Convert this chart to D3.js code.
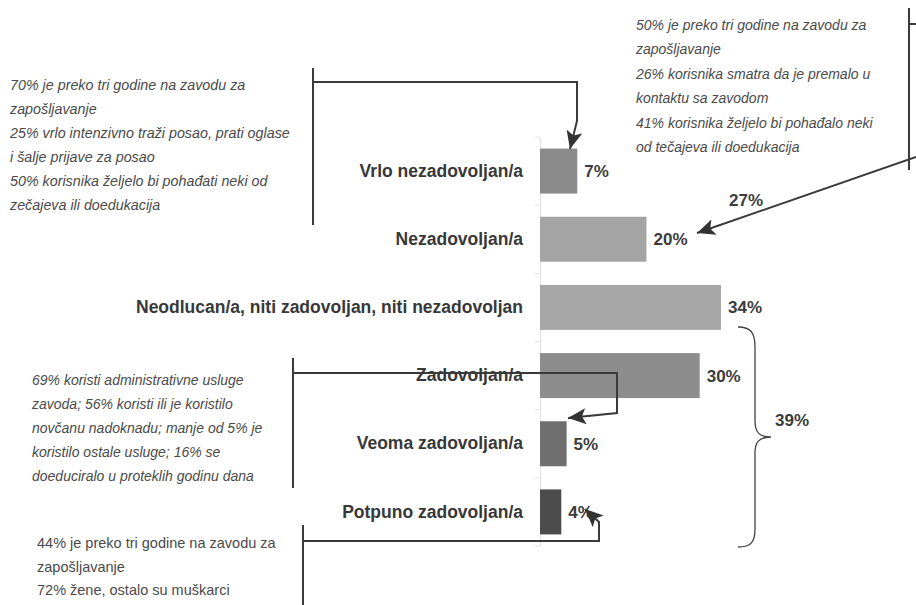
<!DOCTYPE html>
<html>
<head>
<meta charset="utf-8">
<script src="https://cdn.jsdelivr.net/npm/d3@7/dist/d3.min.js"></script>
<style>
  body { margin: 0; background: #fff; }
  text { font-family: "Liberation Sans", Arial, sans-serif; }
</style>
</head>
<body>
<div id="chart"></div>
<script>
// categories and values
const categories = ["Vrlo nezadovoljan/a", "Nezadovoljan/a", "Neodlucan/a, niti zadovoljan, niti nezadovoljan",
  "Zadovoljan/a", "Veoma zadovoljan/a", "Potpuno zadovoljan/a"];
const values = [7, 20, 34, 30, 5, 4];
const barColors = ["#8b8b8b", "#a4a4a4", "#a7a7a7", "#8d8d8d", "#6f6f6f", "#4c4c4c"];

// annotation texts
const noteTopLeft = ["70% je preko tri godine na zavodu za", "zapošljavanje",
  "25% vrlo intenzivno traži posao, prati oglase", "i šalje prijave za posao",
  "50% korisnika željelo bi pohađati neki od", "zečajeva ili doedukacija"];
const noteTopRight = ["50% je preko tri godine na zavodu za", "zapošljavanje",
  "26% korisnika smatra da je premalo u", "kontaktu sa zavodom",
  "41% korisnika željelo bi pohađalo neki", "od tečajeva ili doedukacija"];
const noteMidLeft = ["69% koristi administrativne usluge", "zavoda; 56% koristi ili je koristilo",
  "novčanu nadoknadu; manje od 5% je", "koristilo ostale usluge; 16% se",
  "doeduciralo u proteklih godinu dana"];
const noteBottom = ["44% je preko tri godine na zavodu za", "zapošljavanje", "72% žene, ostalo su muškarci"];
const groupLabels = ["27%", "39%"];

const W = 916, H = 605;
const svg = d3.select("#chart").append("svg").attr("width", W).attr("height", H);

const x = d3.scaleLinear().domain([0, 34]).range([540, 721]);
const y = d3.scaleBand().domain(categories).range([137, 546]).paddingInner(0.34).paddingOuter(0.17);

// faint axis line with ticks between bands
const axis = svg.append("g").attr("transform", "translate(540,0)")
  .call(d3.axisLeft(y).tickSize(0).tickPadding(17));
axis.select(".domain").attr("stroke", "#e2e2e2");
axis.selectAll("text")
  .attr("fill", "#383838")
  .style("font-size", "17.5px")
  .style("font-weight", "bold");

const bounds = d3.range(categories.length + 1).map(i => 137 + i * y.step());
svg.selectAll("line.tk").data(bounds).enter().append("line")
  .attr("x1", 535).attr("x2", 540)
  .attr("y1", d => d).attr("y2", d => d)
  .attr("stroke", "#e2e2e2");

// bars
svg.selectAll("rect.bar").data(categories).enter().append("rect")
  .attr("x", x(0))
  .attr("y", d => y(d))
  .attr("width", (d, i) => x(values[i]) - x(0))
  .attr("height", y.bandwidth())
  .attr("fill", (d, i) => barColors[i]);

svg.selectAll("text.val").data(categories).enter().append("text")
  .attr("x", (d, i) => x(values[i]) + 7)
  .attr("y", d => y(d) + y.bandwidth() / 2)
  .attr("dy", "0.35em")
  .attr("fill", "#3c3c3c")
  .style("font-size", "17px")
  .style("font-weight", "bold")
  .text((d, i) => values[i] + "%");

// arrow marker
svg.append("defs").append("marker")
  .attr("id", "arr")
  .attr("markerUnits", "userSpaceOnUse")
  .attr("markerWidth", 20).attr("markerHeight", 16)
  .attr("refX", 18).attr("refY", 8)
  .attr("orient", "auto")
  .append("path").attr("d", "M0,0 L18,8 L0,16 L4,8 z").attr("fill", "#333");

function connector(d, arrow) {
  const p = svg.append("path").attr("d", d)
    .attr("fill", "none").attr("stroke", "#3a3a3a").attr("stroke-width", 2);
  if (arrow) p.attr("marker-end", "url(#arr)");
}

// top-left note
connector("M313,68 V225");
connector("M313,82 H577 V121 L570,149", true);
// top-right note
connector("M909,8 V170 M909,24 H916");
connector("M916,157 L697,233", true);
// middle-left note
connector("M293,358 V488");
connector("M293,373 H617 V413 L568,418", true);
// bottom note
connector("M303,525 V605");
connector("M303,541 H599 V522 L585,509", true);

function note(lines, x0, y0, step, italic, size) {
  svg.append("g").selectAll("text").data(lines).enter().append("text")
    .attr("x", x0)
    .attr("y", (d, i) => y0 + i * step)
    .attr("dy", "0.35em")
    .attr("fill", "#4a4a4a")
    .style("font-size", size + "px")
    .style("font-style", italic ? "italic" : "normal")
    .text(d => d);
}
note(noteTopLeft, 10, 85, 24, true, 14.3);
note(noteTopRight, 636, 25, 24.4, true, 14);
note(noteMidLeft, 32, 380, 24, true, 14);
note(noteBottom, 37, 543, 23.5, false, 14.5);

// brace for the satisfied group
svg.append("path")
  .attr("d", "M738,327 C751,327 755,333 755,347 V421 C755,432 759,437 771,437 C759,437 755,442 755,453 V529 C755,542 751,547 738,547")
  .attr("fill", "none").attr("stroke", "#444").attr("stroke-width", 1.3);

svg.append("text").attr("x", 746).attr("y", 200).attr("dy", "0.35em")
  .attr("text-anchor", "middle").attr("fill", "#3c3c3c")
  .style("font-size", "17px").style("font-weight", "bold").text(groupLabels[0]);
svg.append("text").attr("x", 792).attr("y", 420).attr("dy", "0.35em")
  .attr("text-anchor", "middle").attr("fill", "#3c3c3c")
  .style("font-size", "17px").style("font-weight", "bold").text(groupLabels[1]);
</script>
</body>
</html>
